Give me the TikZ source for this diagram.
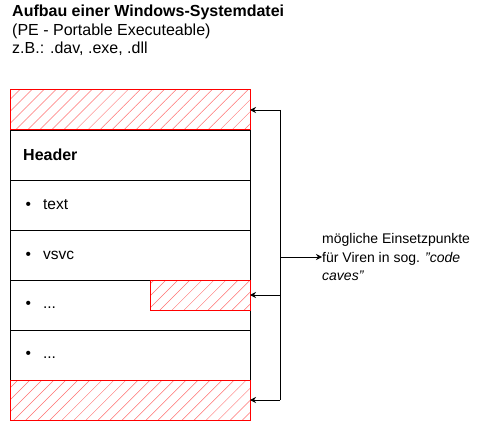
\documentclass[tikz,border=0pt]{standalone}
\usepackage{fontspec}
\setmainfont{Liberation Sans}
\usepackage{xcolor}
\usepackage{tikz}
\usetikzlibrary{arrows.meta,positioning,calc,patterns.meta}
\definecolor{CaveRed}{HTML}{FF0000}
\definecolor{HatchRed}{HTML}{FF7070}

\begin{document}
\begin{tikzpicture}[
  x=1pt, y=-1pt,
  node distance=0pt,
  part/.style={draw, line width=0.8pt, minimum width=240pt, minimum height=50pt,
    inner sep=0pt, outer sep=0pt},
  cave/.style={draw=CaveRed, line width=1pt, inner sep=0pt, outer sep=0pt,
    pattern={Lines[angle=45, distance=8.5pt, line width=0.5pt]}, pattern color=HatchRed},
  item/.style={text width=220pt, align=left, inner sep=0pt, font=\fontsize{15.5}{18}\selectfont},
  arrow/.style={-{Stealth[length=6pt, width=6pt]}, line width=0.8pt}
]
  \useasboundingbox (0,0) rectangle (481,422);

  % title
  \node[anchor=north west, align=left, inner sep=0pt, font=\fontsize{16}{18.5}\selectfont] (title) at (12,5)
    {\textbf{Aufbau einer Windows-Systemdatei}\\(PE - Portable Executeable)\\z.B.: .dav, .exe, .dll};

  % file layout
  \node[cave, minimum width=240pt, minimum height=40pt, anchor=north west] (tophatch) at (10,90) {};
  \node[part, below=of tophatch] (header) {};
  \node[part, below=of header] (sectext) {};
  \node[part, below=of sectext] (secvsvc) {};
  \node[part, below=of secvsvc] (secmore) {};
  \node[part, below=of secmore] (seclast) {};
  \node[cave, minimum width=240pt, minimum height=40pt, below=of seclast] (bothatch) {};
  \node[cave, minimum width=100pt, minimum height=30pt, anchor=north east] (midhatch) at (secmore.north east) {};

  \node[anchor=west, font=\bfseries\fontsize{16}{18}\selectfont, inner sep=0pt] (headlbl) at ($(header.west)+(13,0)$) {Header};
  \node[item, anchor=west] (textlbl) at ($(sectext.west)+(15.5,0)$) {\textbullet\hspace{12pt}text};
  \node[item, anchor=west] (vsvclbl) at ($(secvsvc.west)+(15.5,0)$) {\textbullet\hspace{12pt}vsvc};
  \node[item, anchor=west] (morelbl) at ($(secmore.west)+(15.5,0)$) {\textbullet\hspace{12pt}...};
  \node[item, anchor=west] (lastlbl) at ($(seclast.west)+(15.5,0)$) {\textbullet\hspace{12pt}...};

  % code caves
  \node[anchor=west, align=left, inner sep=0pt, font=\fontsize{14}{18.7}\selectfont] (note) at (322,257)
    {mögliche Einsetzpunkte\\für Viren in sog. \textit{"code}\\\textit{caves"}};
  \coordinate (bus) at (280,0);

  \draw[line width=0.8pt] (tophatch.east -| bus) -- (bothatch.east -| bus);
  \draw[arrow] (tophatch.east -| bus) -- (tophatch.east);
  \draw[arrow] (midhatch.east -| bus) -- (midhatch.east);
  \draw[arrow] (bothatch.east -| bus) -- (bothatch.east);
  \draw[arrow] (note.west -| bus) -- (note.west);
\end{tikzpicture}
\end{document}
